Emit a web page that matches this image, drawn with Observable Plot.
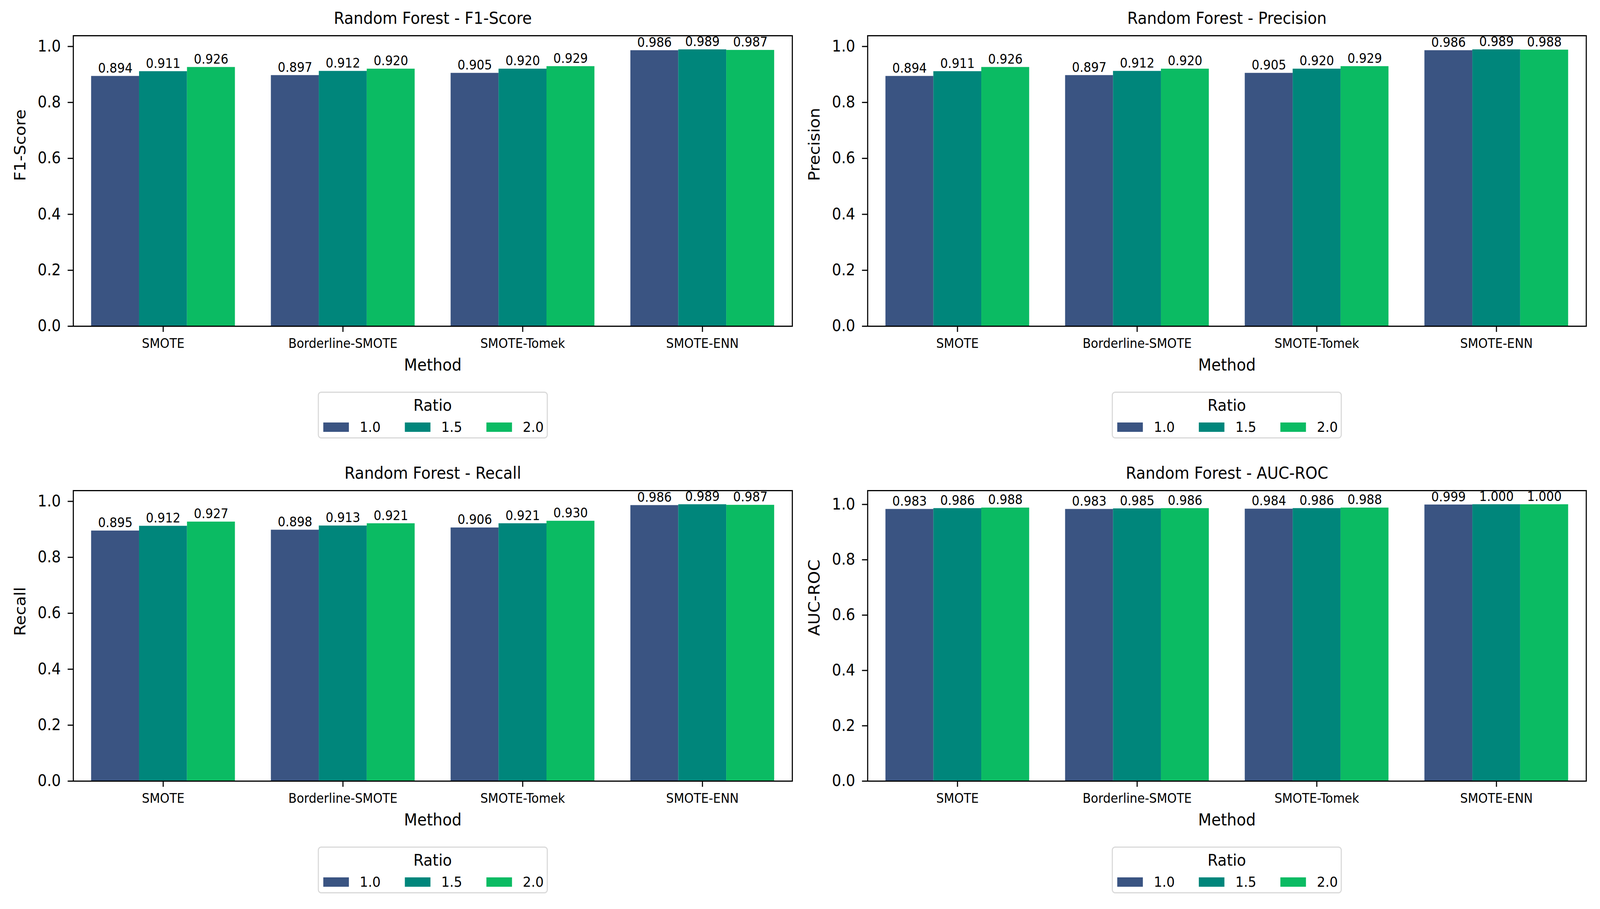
<!DOCTYPE html>
<html>
<head>
<meta charset="utf-8">
<script src="https://cdn.jsdelivr.net/npm/d3@7"></script>
<script src="https://cdn.jsdelivr.net/npm/@observablehq/plot@0.6"></script>
<style>
html, body { margin: 0; padding: 0; background: #fff; overflow: hidden; }
#root { position: relative; width: 4375px; height: 2328px; font-family: "DejaVu Sans", sans-serif; color: #000; overflow: hidden; transform-origin: 0 0; }
.panel { position: absolute; }
.panel svg { overflow: visible; }
.legendbox { position: absolute; box-sizing: border-box; width: 629px; height: 120px; border: 3px solid #d9d9d9; border-radius: 9px; background: #fff; }
.legendtitle { position: absolute; left: 0; right: 0; top: 12px; text-align: center; font-size: 41px; line-height: 41px; font-family: "DejaVu Sans", sans-serif; }
.legendrow { position: absolute; left: 12px; top: 67px; height: 34px; }
div.legendrow .rl-swatches, div.legendrow .rl-swatches-wrap { margin: 0 !important; min-height: 34px !important; font-family: "DejaVu Sans", sans-serif !important; font-size: 36px !important; color: #000 !important; display: flex !important; align-items: center !important; flex-wrap: nowrap !important; }
div.legendrow .rl-swatch { width: 223px !important; margin: 0 !important; display: inline-flex !important; align-items: center !important; }
div.legendrow .rl-swatch > svg { margin-right: 30px !important; }
</style>
</head>
<body>
<div id="root"></div>
<script>
// ---------- data ----------
const methods = ["SMOTE", "Borderline-SMOTE", "SMOTE-Tomek", "SMOTE-ENN"];
const ratios = ["1.0", "1.5", "2.0"];
const colors = ["#3a5482", "#00867b", "#0bbb63"];
const yTicks = [0.0, 0.2, 0.4, 0.6, 0.8, 1.0];

// rows: methods, columns: ratios
const f1Values = [
  [0.894, 0.911, 0.926],
  [0.897, 0.912, 0.920],
  [0.905, 0.920, 0.929],
  [0.986, 0.989, 0.987]
];
const precisionValues = [
  [0.894, 0.911, 0.926],
  [0.897, 0.912, 0.920],
  [0.905, 0.920, 0.929],
  [0.986, 0.989, 0.988]
];
const recallValues = [
  [0.895, 0.912, 0.927],
  [0.898, 0.913, 0.921],
  [0.906, 0.921, 0.930],
  [0.986, 0.989, 0.987]
];
const aucValues = [
  [0.983, 0.986, 0.988],
  [0.983, 0.985, 0.986],
  [0.984, 0.986, 0.988],
  [0.999, 1.000, 1.000]
];

const panels = [
  {metric: "F1-Score", values: f1Values, left: 0, top: 0, width: 2187, mL: 200, mR: 21},
  {metric: "Precision", values: precisionValues, left: 2187, top: 0, width: 2188, mL: 185, mR: 38},
  {metric: "Recall", values: recallValues, left: 0, top: 1165, width: 2187, mL: 200, mR: 21},
  {metric: "AUC-ROC", values: aucValues, left: 2187, top: 1165, width: 2188, mL: 185, mR: 38}
];

const root = document.getElementById("root");
const groupWidth = 0.8;
const fmt3 = d3.format(".3f");
const fmt1 = d3.format(".1f");
const H = 970, MT = 91, MB = 135;

// fit the 4375x2328 layout onto the whole viewport
function fit() {
  const vw = document.documentElement.clientWidth || window.innerWidth;
  const vh = document.documentElement.clientHeight || window.innerHeight;
  root.style.transform = "scale(" + (vw / 4375) + "," + (vh / 2328) + ")";
}
fit();
window.addEventListener("resize", fit);

function buildPanel(p) {
  const data = [];
  methods.forEach((m, i) => ratios.forEach((r, j) => data.push({method: m, mi: i, ratio: r, rj: j, value: p.values[i][j]})));
  const bw = groupWidth / ratios.length;
  const x1 = d => d.mi - groupWidth / 2 + d.rj * bw;
  const x2 = d => d.mi - groupWidth / 2 + (d.rj + 1) * bw;
  const xc = d => d.mi - groupWidth / 2 + (d.rj + 0.5) * bw;
  const ymax = d3.max(data, d => d.value) * 1.05;

  const chart = Plot.plot({
    width: p.width,
    height: H,
    marginTop: MT,
    marginBottom: MB,
    marginLeft: p.mL,
    marginRight: p.mR,
    style: {fontFamily: "DejaVu Sans, sans-serif", color: "#000", background: "transparent", overflow: "visible"},
    x: {type: "linear", domain: [-0.5, methods.length - 0.5]},
    y: {domain: [0, ymax]},
    color: {domain: ratios, range: colors},
    marks: [
      Plot.rectY(data, {x1, x2, y1: 0, y2: "value", fill: "ratio", inset: 0}),
      Plot.text(data, {x: xc, y: "value", text: d => fmt3(d.value), lineAnchor: "bottom", dy: -9, fontSize: 33, fill: "#000"}),
      Plot.frame({stroke: "#000", strokeWidth: 3}),
      Plot.axisX({ticks: methods.map((_, i) => i), tickFormat: i => methods[i], tickSize: 15, tickPadding: 17, fontSize: 33, strokeWidth: 3, label: null}),
      Plot.axisY({ticks: yTicks, tickFormat: fmt1, tickSize: 15, tickPadding: 19, fontSize: 40, strokeWidth: 3, label: null}),
      Plot.text(["Random Forest - " + p.metric], {text: d => d, frameAnchor: "top", dy: -44, lineAnchor: "middle", fontSize: 42, fill: "#000"}),
      Plot.text(["Method"], {text: d => d, frameAnchor: "bottom", dy: 100, lineAnchor: "middle", fontSize: 42, fill: "#000"}),
      Plot.text([p.metric], {text: d => d, frameAnchor: "left", dx: -145, rotate: -90, lineAnchor: "middle", fontSize: 42, fill: "#000"})
    ]
  });

  const wrap = document.createElement("div");
  wrap.className = "panel";
  wrap.style.left = p.left + "px";
  wrap.style.top = p.top + "px";
  wrap.style.width = p.width + "px";
  wrap.appendChild(chart);
  root.appendChild(wrap);

  // legend below the chart
  const frameLeft = p.left + p.mL;
  const frameRight = p.left + p.width - p.mR;
  const cx = (frameLeft + frameRight) / 2;
  const box = document.createElement("div");
  box.className = "legendbox";
  box.style.left = (cx - 629 / 2) + "px";
  box.style.top = (p.top + 1003) + "px";
  const title = document.createElement("div");
  title.className = "legendtitle";
  title.textContent = "Ratio";
  box.appendChild(title);
  const row = document.createElement("div");
  row.className = "legendrow";
  const leg = Plot.legend({
    color: {domain: ratios, range: colors},
    legend: "swatches",
    swatchWidth: 70,
    swatchHeight: 24,
    className: "rl"
  });
  row.appendChild(leg);
  box.appendChild(row);
  root.appendChild(box);
}

panels.forEach(buildPanel);
</script>
</body>
</html>
